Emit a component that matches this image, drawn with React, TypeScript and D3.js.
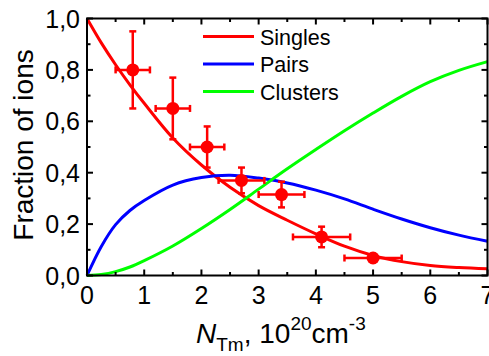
import * as d3 from "d3";

// model curves
const nValues = [0, 0.25, 0.5, 0.75, 1, 1.5, 2, 2.5, 3, 3.5, 4, 4.5, 5, 5.5, 6, 6.5, 7];
const singles = [1.0, 0.905, 0.82, 0.742, 0.67, 0.535, 0.43, 0.343, 0.272, 0.215, 0.162, 0.114, 0.078, 0.054, 0.039, 0.031, 0.026];
const pairs = [0, 0.113, 0.198, 0.253, 0.292, 0.352, 0.381, 0.39, 0.379, 0.36, 0.332, 0.298, 0.258, 0.22, 0.186, 0.157, 0.133];
const clusters = [0, 0.004, 0.015, 0.033, 0.058, 0.115, 0.183, 0.257, 0.336, 0.415, 0.49, 0.563, 0.632, 0.697, 0.754, 0.798, 0.832];

// measured points
const expX = [0.8, 1.5, 2.1, 2.7, 3.4, 4.1, 5.0];
const expY = [0.8, 0.65, 0.5, 0.37, 0.315, 0.15, 0.068];
const expXErr = [0.3, 0.3, 0.3, 0.4, 0.4, 0.5, 0.5];
const expYErr = [0.15, 0.12, 0.08, 0.05, 0.05, 0.04, 0];

const xTicks = [0, 1, 2, 3, 4, 5, 6, 7];
const yTicks = [0, 0.2, 0.4, 0.6, 0.8, 1.0];

const seriesNames = ["Singles", "Pairs", "Clusters"];
const seriesColors = ["#ff0000", "#0000ff", "#00ff00"];

const width = 489;
const height = 356;
const margin = { top: 18.5, right: 1.5, bottom: 80.5, left: 87 };
const font = "Arial, 'Liberation Sans', sans-serif";

export default function App() {
  const innerW = width - margin.left - margin.right;
  const innerH = height - margin.top - margin.bottom;

  const x = d3.scaleLinear().domain([0, 7]).range([0, innerW]);
  const y = d3.scaleLinear().domain([0, 1]).range([innerH, 0]);

  const line = d3
    .line<number>()
    .x((_, i) => x(nValues[i]))
    .y((d) => y(d))
    .curve(d3.curveCatmullRom.alpha(0.5));

  const series = [singles, pairs, clusters];

  const xMinor = d3.range(0, 7.01, 0.5);
  const yMinor = d3.range(0, 1.001, 0.1);
  const fmt = (v: number) => v.toFixed(1).replace(".", ",");

  const major = 6;
  const minor = 3.5;
  const cap = 3.5;

  return (
    <svg
      width={width}
      height={height}
      style={{ position: "absolute", left: 0, top: 0, background: "#fff" }}
      fontFamily={font}
    >
      <g transform={`translate(${margin.left},${margin.top})`}>
        {/* curves */}
        {series.map((s, i) => (
          <path key={seriesNames[i]} d={line(s) || ""} fill="none" stroke={seriesColors[i]} strokeWidth={3} />
        ))}

        {/* experimental points */}
        {expX.map((v, i) => {
          const cx = x(v);
          const cy = y(expY[i]);
          const x0 = x(v - expXErr[i]);
          const x1 = x(v + expXErr[i]);
          const y0 = y(expY[i] - expYErr[i]);
          const y1 = y(expY[i] + expYErr[i]);
          return (
            <g key={i} stroke="#ff0000" strokeWidth={2.5} fill="#ff0000">
              <line x1={x0} x2={x1} y1={cy} y2={cy} />
              <line x1={x0} x2={x0} y1={cy - cap} y2={cy + cap} />
              <line x1={x1} x2={x1} y1={cy - cap} y2={cy + cap} />
              {expYErr[i] > 0 && (
                <>
                  <line x1={cx} x2={cx} y1={y0} y2={y1} />
                  <line x1={cx - cap} x2={cx + cap} y1={y0} y2={y0} />
                  <line x1={cx - cap} x2={cx + cap} y1={y1} y2={y1} />
                </>
              )}
              <circle cx={cx} cy={cy} r={6.5} stroke="none" />
            </g>
          );
        })}

        {/* frame */}
        <rect x={0} y={0} width={innerW} height={innerH} fill="none" stroke="#000" strokeWidth={2} />

        {/* x ticks, bottom and top, inward */}
        {xMinor.map((v) => {
          const isMajor = Math.abs(v - Math.round(v)) < 1e-6;
          const len = isMajor ? major : minor;
          return (
            <g key={`xt${v}`} stroke="#000" strokeWidth={2}>
              <line x1={x(v)} x2={x(v)} y1={innerH} y2={innerH - len} />
              <line x1={x(v)} x2={x(v)} y1={0} y2={len} />
            </g>
          );
        })}
        {/* y ticks, left and right, inward */}
        {yMinor.map((v) => {
          const isMajor = Math.abs(v * 5 - Math.round(v * 5)) < 1e-6;
          const len = isMajor ? major : minor;
          return (
            <g key={`yt${v}`} stroke="#000" strokeWidth={2}>
              <line x1={0} x2={len} y1={y(v)} y2={y(v)} />
              <line x1={innerW} x2={innerW - len} y1={y(v)} y2={y(v)} />
            </g>
          );
        })}

        {xTicks.map((v) => (
          <text key={`xl${v}`} x={x(v)} y={innerH + 28} textAnchor="middle" fontSize={25} fill="#000">
            {v}
          </text>
        ))}
        {yTicks.map((v) => (
          <text key={`yl${v}`} x={-7} y={y(v) + 9} textAnchor="end" fontSize={25} fill="#000">
            {fmt(v)}
          </text>
        ))}

        {/* legend */}
        {seriesNames.map((name, i) => (
          <g key={name} transform={`translate(116,${18 + i * 27.5})`}>
            <line x1={0} x2={51} y1={0} y2={0} stroke={seriesColors[i]} strokeWidth={3} />
            <text x={57} y={8} fontSize={21.5} fill="#000">
              {name}
            </text>
          </g>
        ))}
      </g>

      {/* axis titles */}
      <text transform="translate(33,145) rotate(-90)" textAnchor="middle" fontSize={28} fill="#000">
        Fraction of ions
      </text>
      <text x={196} y={343} fontSize={28} fill="#000">
        <tspan fontStyle="italic">N</tspan>
        <tspan fontSize={19} dy={8}>Tm</tspan>
        <tspan dy={-8}>, 10</tspan>
        <tspan fontSize={19} dy={-13}>20</tspan>
        <tspan dy={13}>cm</tspan>
        <tspan fontSize={19} dy={-13}>-3</tspan>
      </text>
    </svg>
  );
}
